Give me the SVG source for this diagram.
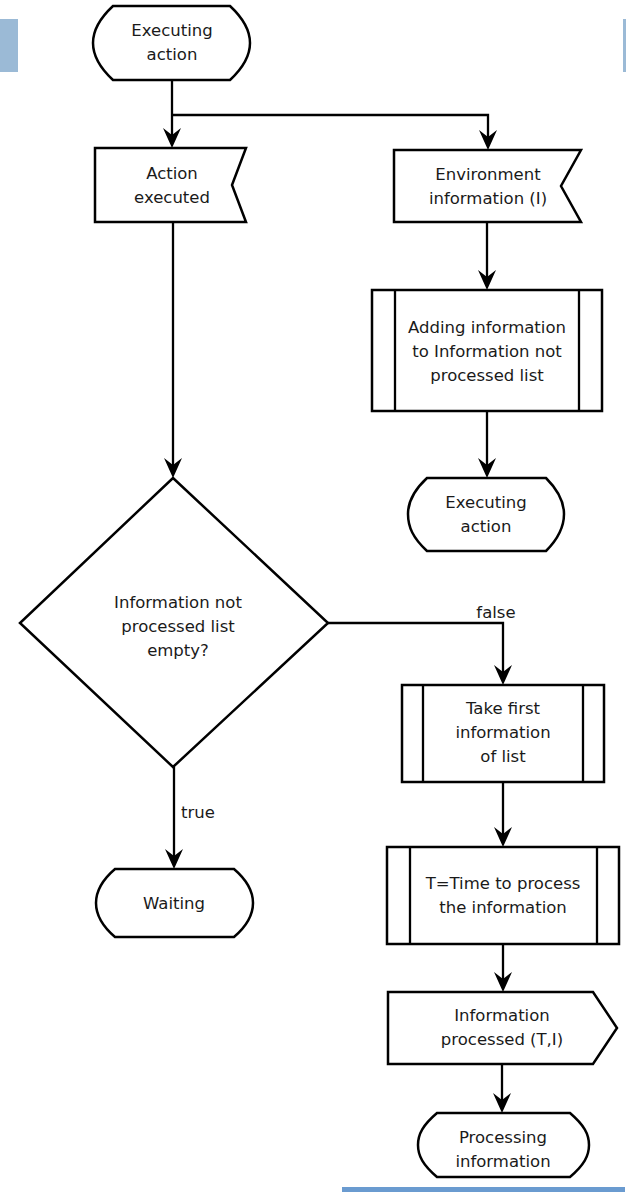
<svg xmlns="http://www.w3.org/2000/svg" width="626" height="1192" viewBox="0 0 626 1192">
<style>
.n{fill:#fff;stroke:#000;stroke-width:2.5;stroke-linejoin:miter}
.c{fill:none;stroke:#000;stroke-width:2.3}
text{font-family:"DejaVu Sans",Verdana,sans-serif;font-size:16.5px;fill:#1a1a1a;text-anchor:middle}
.l{text-anchor:start}
</style>
<defs>
<marker id="ah" viewBox="-11 -10 22 20" refX="0" refY="0" markerWidth="22" markerHeight="20" markerUnits="userSpaceOnUse" orient="auto">
<path d="M10,0 L-10,-9 L-3,0 L-10,9 Z" fill="#000"/>
</marker>
</defs>
<rect x="0" y="19" width="18" height="53" fill="#9bbad6"/>
<rect x="623" y="19" width="3" height="53" fill="#9bbad6"/>
<rect x="342" y="1187" width="283" height="5" fill="#6a9bd0"/>
<g id="connectors">
<path class="c" d="M172,80 V138" marker-end="url(#ah)"/>
<path class="c" d="M172,115 H488 V140" marker-end="url(#ah)"/>
<path class="c" d="M487,223 V280" marker-end="url(#ah)"/>
<path class="c" d="M487,411 V468" marker-end="url(#ah)"/>
<path class="c" d="M173,222 V468" marker-end="url(#ah)"/>
<path class="c" d="M328,623 H503 V675" marker-end="url(#ah)"/>
<path class="c" d="M503,782 V837" marker-end="url(#ah)"/>
<path class="c" d="M503,944 V982" marker-end="url(#ah)"/>
<path class="c" d="M502,1064 V1103" marker-end="url(#ah)"/>
<path class="c" d="M174,767 V859" marker-end="url(#ah)"/>
<text x="496" y="618">false</text>
<text class="l" x="181" y="818">true</text>
</g>
<g id="start">
<path class="n" d="M113,6 H230 C244,19 250,30 250,43 C250,56 244,67 230,80 H113 C99,67 93,56 93,43 C93,30 99,19 113,6 Z"/>
<text x="172" y="36">Executing</text>
<text x="172" y="60">action</text>
</g>
<g id="action-executed">
<path class="n" d="M95,148 H246 L232,185 L246,222 H95 Z"/>
<text x="172" y="179">Action</text>
<text x="172" y="203">executed</text>
</g>
<g id="env-info">
<path class="n" d="M394,150 H581 L561,186 L581,222 H394 Z"/>
<text x="488" y="180">Environment</text>
<text x="488" y="204">information (I)</text>
</g>
<g id="adding">
<rect class="n" x="372" y="290" width="230" height="121"/>
<path class="c" d="M395,290 V411 M579,290 V411"/>
<text x="487" y="333">Adding information</text>
<text x="487" y="357">to Information not</text>
<text x="487" y="381">processed list</text>
</g>
<g id="executing2">
<path class="n" d="M427,478 H546 C559,491 564,502 564,514 C564,527 559,538 546,551 H427 C413,538 408,527 408,514 C408,502 413,491 427,478 Z"/>
<text x="486" y="508">Executing</text>
<text x="486" y="532">action</text>
</g>
<g id="decision">
<path class="n" d="M173,478 L328,623 L173,767 L20,623 Z"/>
<text x="178" y="608">Information not</text>
<text x="178" y="632">processed list</text>
<text x="178" y="656">empty?</text>
</g>
<g id="take-first">
<rect class="n" x="402" y="685" width="202" height="97"/>
<path class="c" d="M423,685 V782 M583,685 V782"/>
<text x="503" y="714">Take first</text>
<text x="503" y="738">information</text>
<text x="503" y="762">of list</text>
</g>
<g id="time">
<rect class="n" x="387" y="847" width="232" height="97"/>
<path class="c" d="M410,847 V944 M597,847 V944"/>
<text x="503" y="889">T=Time to process</text>
<text x="503" y="913">the information</text>
</g>
<g id="info-processed">
<path class="n" d="M388,992 H593 L617,1028 L593,1064 H388 Z"/>
<text x="502" y="1021">Information</text>
<text x="502" y="1045">processed (T,I)</text>
</g>
<g id="waiting">
<path class="n" d="M115,869 H234 C248,881 253,892 253,903 C253,914 248,925 234,937 H115 C101,925 96,914 96,903 C96,892 101,881 115,869 Z"/>
<text x="174" y="909">Waiting</text>
</g>
<g id="processing">
<path class="n" d="M437,1113 H570 C584,1125 589,1134 589,1145 C589,1156 584,1165 570,1177 H437 C423,1165 418,1156 418,1145 C418,1134 423,1125 437,1113 Z"/>
<text x="503" y="1143">Processing</text>
<text x="503" y="1167">information</text>
</g>
</svg>
